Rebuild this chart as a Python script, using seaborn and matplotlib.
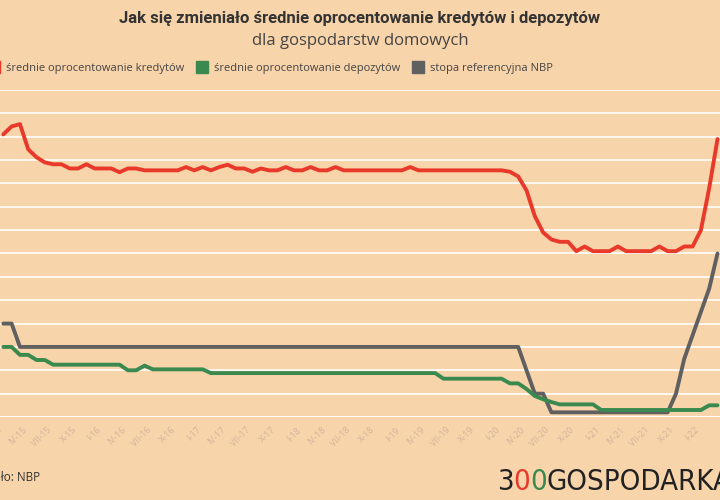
import numpy as np
import pandas as pd
import seaborn as sns
import matplotlib.pyplot as plt
from matplotlib.lines import Line2D

# monthly data, I-15 .. III-22 (87 months)
months_roman = ["I", "II", "III", "IV", "V", "VI", "VII", "VIII", "IX", "X", "XI", "XII"]
month_labels = [f"{months_roman[m % 12]}-{15 + m // 12}" for m in range(87)]

kredyty = [6.05, 6.22, 6.27, 5.73, 5.56, 5.45, 5.41, 5.41, 5.32, 5.32, 5.41, 5.32,
           5.32, 5.32, 5.24, 5.32, 5.32, 5.28, 5.28, 5.28, 5.28, 5.28, 5.35, 5.28,
           5.35, 5.28, 5.35, 5.40, 5.32, 5.32, 5.25, 5.32, 5.28, 5.28, 5.35, 5.28,
           5.28, 5.35, 5.28, 5.28, 5.35, 5.28, 5.28, 5.28, 5.28, 5.28, 5.28, 5.28,
           5.28, 5.35, 5.28, 5.28, 5.28, 5.28, 5.28, 5.28, 5.28, 5.28, 5.28, 5.28,
           5.28, 5.25, 5.15, 4.85, 4.30, 3.95, 3.80, 3.75, 3.75, 3.55, 3.65, 3.55,
           3.55, 3.55, 3.65, 3.55, 3.55, 3.55, 3.55, 3.65, 3.55, 3.55, 3.65, 3.65,
           4.00, 4.90, 5.95]
depozyty = [1.50, 1.50, 1.33, 1.33, 1.22, 1.22, 1.12, 1.12, 1.12, 1.12, 1.12, 1.12,
            1.12, 1.12, 1.12, 1.00, 1.00, 1.10, 1.02, 1.02, 1.02, 1.02, 1.02, 1.02,
            1.02, 0.94, 0.94, 0.94, 0.94, 0.94, 0.94, 0.94, 0.94, 0.94, 0.94, 0.94,
            0.94, 0.94, 0.94, 0.94, 0.94, 0.94, 0.94, 0.94, 0.94, 0.94, 0.94, 0.94,
            0.94, 0.94, 0.94, 0.94, 0.94, 0.82, 0.82, 0.82, 0.82, 0.82, 0.82, 0.82,
            0.82, 0.72, 0.72, 0.60, 0.45, 0.38, 0.32, 0.27, 0.27, 0.27, 0.27, 0.27,
            0.15, 0.15, 0.15, 0.15, 0.15, 0.15, 0.15, 0.15, 0.15, 0.15, 0.15, 0.15,
            0.15, 0.25, 0.25]
stopa_nbp = [2.0, 2.0] + [1.5] * 61 + [1.0, 0.5, 0.5] + [0.1] * 15 + [0.5, 1.25, 1.75, 2.25, 2.75, 3.5]
stopa_nbp = stopa_nbp[:87]

names = ["średnie oprocentowanie kredytów", "średnie oprocentowanie depozytów", "stopa referencyjna NBP"]
colors = ["#e8392a", "#3a8a4f", "#606060"]

df = pd.DataFrame({"m": np.arange(87), names[0]: kredyty, names[1]: depozyty, names[2]: stopa_nbp})
long = df.melt(id_vars="m", var_name="seria", value_name="v")

bg = "#f8d4aa"
sns.set_style("white")
plt.rcParams["font.family"] = ["Open Sans", "DejaVu Sans"]

fig = plt.figure(figsize=(7.2, 5.0), dpi=100, facecolor=bg)
ax = fig.add_axes([0.0, 0.166, 1.0, 0.654], facecolor=bg)
sns.lineplot(data=long, x="m", y="v", hue="seria", palette=dict(zip(names, colors)),
             linewidth=2.8, legend=False, ax=ax, hue_order=[names[2], names[1], names[0]])

ax.set_ylim(0, 7.0)
ax.set_xlim(-0.4, 86.3)
ax.set_yticks(np.arange(0, 7.01, 0.5))
ax.yaxis.grid(True, color="white", linewidth=1.2)
ax.set_axisbelow(True)
ax.set_yticklabels([])
ax.tick_params(axis="y", length=0)
ax.set_xticks(np.arange(0, 87, 3))
ax.set_xticklabels(month_labels[::3], rotation=45, ha="right", fontsize=6.5, color="#d0b39b")
ax.set_xticks(np.arange(87), minor=True)
ax.tick_params(axis="x", which="both", length=4, color="white", direction="out", pad=2)
ax.set_xlabel("")
ax.set_ylabel("")
for s in ax.spines.values():
    s.set_visible(False)
ax.axhline(0, color="white", linewidth=1.5)

fig.text(0.5, 0.962, "Jak się zmieniało średnie oprocentowanie kredytów i depozytów",
         ha="center", va="center", fontsize=12, fontweight="bold", color="#333333", family="Roboto")
fig.text(0.5, 0.918, "dla gospodarstw domowych", ha="center", va="center", fontsize=12, color="#444444")

handles = [Line2D([], [], marker="s", linestyle="", markersize=8, color=c) for c in colors]
fig.legend(handles, names, loc="center left", bbox_to_anchor=(-0.038, 0.864), ncol=3,
           frameon=False, fontsize=8, handletextpad=0.1, columnspacing=0.6, labelcolor="#444444")

fig.text(-0.035, 0.045, "Źródło: NBP", fontsize=8.5, color="#333333", va="center")
logo_x = 0.69
for part, c in [("3", "#222222"), ("0", "#e8392a"), ("0", "#3a8a4f"), ("GOSPODARKA", "#222222")]:
    t = fig.text(logo_x, 0.036, part, fontsize=21, color=c, va="center",
                 family="DejaVu Sans", fontstretch="condensed")
    fig.canvas.draw()
    bb = t.get_window_extent()
    logo_x += bb.width / fig.bbox.width

fig.savefig("out.png", dpi=100, facecolor=bg)
